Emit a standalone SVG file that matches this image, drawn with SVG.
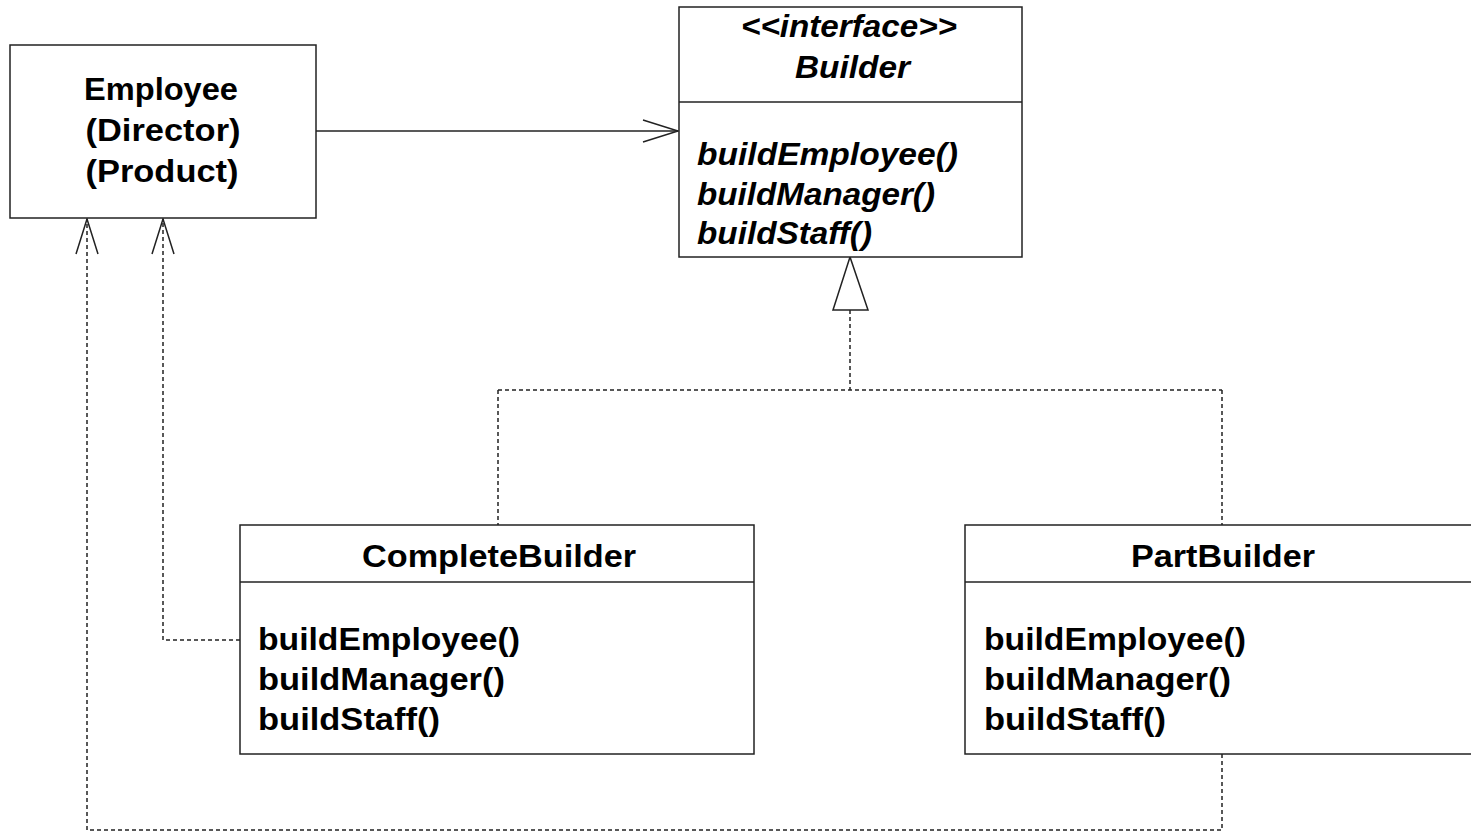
<svg xmlns="http://www.w3.org/2000/svg" width="1471" height="832" viewBox="0 0 1471 832">
  <style>
    .box { fill: #ffffff; stroke: #222222; stroke-width: 1.5; }
    .sep { stroke: #222222; stroke-width: 1.5; }
    .t { font-family: "Liberation Sans", Arial, sans-serif; font-weight: bold; font-size: 31px; fill: #000000; }
    .it { font-style: italic; }
    .solid { fill: none; stroke: #222222; stroke-width: 1.5; }
    .dash { fill: none; stroke: #222222; stroke-width: 1.5; stroke-dasharray: 4 3; }
  </style>
  <defs>
    <marker id="open" markerUnits="userSpaceOnUse" markerWidth="40" markerHeight="26" refX="36" refY="12" orient="auto">
      <path d="M1,1 L36,12 L1,23" fill="none" stroke="#222222" stroke-width="1.5"/>
    </marker>
  </defs>
  <rect width="1471" height="832" fill="#ffffff"/>

  <g id="connectors">
    <!-- association: Employee to Builder -->
    <path class="solid" d="M316,131 L678,131" marker-end="url(#open)"/>
    <!-- realization tree -->
    <path class="dash" d="M850,310 L850,390"/>
    <path class="dash" d="M498,390 L1222,390"/>
    <path class="dash" d="M498,390 L498,525"/>
    <path class="dash" d="M1222,390 L1222,525"/>
    <polygon points="850,257 833,310 868,310" fill="#ffffff" stroke="#222222" stroke-width="1.5"/>
    <!-- dependencies on Employee -->
    <path class="dash" d="M240,640 L163,640 L163,219" marker-end="url(#open)"/>
    <path class="dash" d="M1222,754 L1222,830 L87,830 L87,219" marker-end="url(#open)"/>
  </g>

  <g id="employee">
    <rect class="box" x="10" y="45" width="306" height="173"/>
    <text class="t" x="161" y="100" text-anchor="middle" textLength="154" lengthAdjust="spacingAndGlyphs">Employee</text>
    <text class="t" x="163" y="141" text-anchor="middle" textLength="155" lengthAdjust="spacingAndGlyphs">(Director)</text>
    <text class="t" x="162" y="182" text-anchor="middle" textLength="153" lengthAdjust="spacingAndGlyphs">(Product)</text>
  </g>

  <g id="builder">
    <rect class="box" x="679" y="7" width="343" height="250"/>
    <line class="sep" x1="679" y1="102" x2="1022" y2="102"/>
    <text class="t it" x="741" y="37" textLength="216" lengthAdjust="spacingAndGlyphs">&lt;&lt;interface&gt;&gt;</text>
    <text class="t it" x="795" y="78" textLength="115" lengthAdjust="spacingAndGlyphs">Builder</text>
    <text class="t it" x="697" y="165" textLength="261" lengthAdjust="spacingAndGlyphs">buildEmployee()</text>
    <text class="t it" x="697" y="205" textLength="238" lengthAdjust="spacingAndGlyphs">buildManager()</text>
    <text class="t it" x="697" y="244" textLength="175" lengthAdjust="spacingAndGlyphs">buildStaff()</text>
  </g>

  <g id="completebuilder">
    <rect class="box" x="240" y="525" width="514" height="229"/>
    <line class="sep" x1="240" y1="582" x2="754" y2="582"/>
    <text class="t" x="362" y="567" textLength="274" lengthAdjust="spacingAndGlyphs">CompleteBuilder</text>
    <text class="t" x="258" y="650" textLength="262" lengthAdjust="spacingAndGlyphs">buildEmployee()</text>
    <text class="t" x="258" y="690" textLength="247" lengthAdjust="spacingAndGlyphs">buildManager()</text>
    <text class="t" x="258" y="730" textLength="182" lengthAdjust="spacingAndGlyphs">buildStaff()</text>
  </g>

  <g id="partbuilder">
    <rect class="box" x="965" y="525" width="520" height="229"/>
    <line class="sep" x1="965" y1="582" x2="1485" y2="582"/>
    <text class="t" x="1131" y="567" textLength="184" lengthAdjust="spacingAndGlyphs">PartBuilder</text>
    <text class="t" x="984" y="650" textLength="262" lengthAdjust="spacingAndGlyphs">buildEmployee()</text>
    <text class="t" x="984" y="690" textLength="247" lengthAdjust="spacingAndGlyphs">buildManager()</text>
    <text class="t" x="984" y="730" textLength="182" lengthAdjust="spacingAndGlyphs">buildStaff()</text>
  </g>
</svg>
